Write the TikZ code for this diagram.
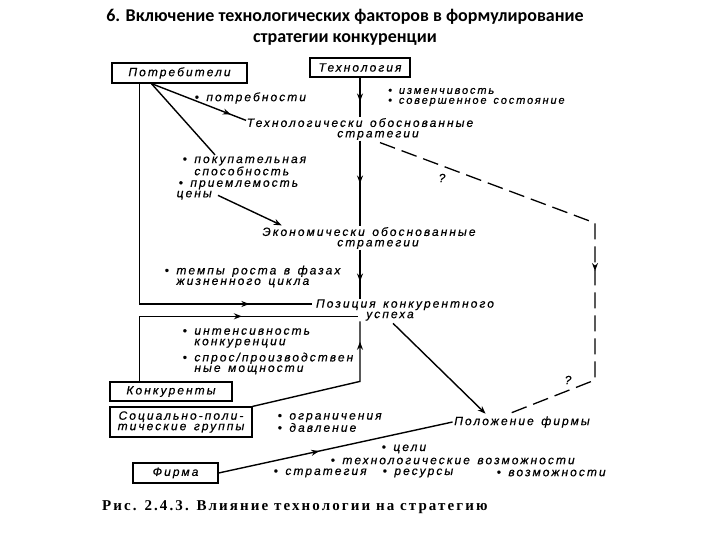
\documentclass[tikz,border=0pt]{standalone}
\usepackage{fontspec}
\setmainfont{Liberation Sans}
\newfontfamily\dfont[LetterSpace=17,WordSpace=1.4,FakeBold=0.4]{Liberation Sans}
\newfontfamily\tfont{Carlito}
\newfontfamily\cfont[LetterSpace=14]{Liberation Serif}
\usetikzlibrary{arrows.meta,decorations.markings,calc}
\newcommand\dbul{\textbullet\ }
\tikzset{
  dtext/.style={font=\dfont\itshape\fontsize{12}{10.5}\selectfont, inner sep=0.5pt},
  stext/.style={font=\dfont\itshape\fontsize{11}{10}\selectfont, inner sep=0pt},
  boxnode/.style={dtext, draw, line width=1.2pt, inner sep=2pt},
  link/.style={line width=1.4pt},
  mainlink/.style={line width=2.4pt},
  dashlink/.style={line width=1.3pt, dash pattern=on 16pt off 7pt},
  marr/.style={postaction={decorate}, decoration={markings, mark=at position #1 with {\arrow{Stealth[length=8pt,width=6pt]}}}},
  endarr/.style={-{Stealth[length=8pt,width=6pt]}},
}
\begin{document}
\begin{tikzpicture}[x=1pt,y=-1pt]
\path[use as bounding box, fill=white] (0,0) rectangle (720,540);

% title and caption
\node[font=\tfont\bfseries\fontsize{18}{21}\selectfont, align=center] (title) at (345,27)
  {6. Включение технологических факторов в формулирование\\стратегии конкуренции};
\node[font=\cfont\bfseries\fontsize{15}{16}\selectfont, anchor=west, inner sep=0pt] (cap) at (102,507)
  {Рис. 2.4.3. Влияние технологии на стратегию};

% boxes
\node[boxnode, minimum width=135pt, minimum height=20pt] (potr) at (179.5,73) {Потребители};
\node[boxnode, minimum width=100pt, minimum height=19pt] (tech) at (360,67.5) {Технология};
\node[boxnode, minimum width=122pt, minimum height=19pt] (konk) at (171,391.5) {Конкуренты};
\node[boxnode, minimum width=142pt, minimum height=30pt, align=center] (soc) at (181,422) {Социально-поли-\\тические группы};
\node[boxnode, minimum width=85pt, minimum height=20pt] (firm) at (175.5,473) {Фирма};

% central texts
\node[dtext, align=center] (tstrat) at (360,129) {Технологически обоснованные\\\hspace*{36pt}стратегии};
\node[dtext, align=center] (estrat) at (369,238) {Экономически обоснованные\\\hspace*{18pt}стратегии};
\node[dtext, align=center] (pos) at (405,310) {Позиция конкурентного\\успеха\hspace*{30pt}};
\node[dtext] (firmpos) at (522,422) {Положение фирмы};

% bullet lists
\node[stext, anchor=west] (b1) at (388,91) {\dbul изменчивость};
\node[stext, anchor=west] (b2) at (388,102) {\dbul совершенное состояние};
\node[dtext, anchor=west] (b3) at (194,98) {\dbul потребности};
\node[dtext, anchor=west, align=left] (b4) at (182,166) {\dbul покупательная\\\hphantom{\dbul}способность};
\node[dtext, anchor=west, align=left] (b5) at (176,190) {\hspace*{2pt}\dbul приемлемость\\цены};
\node[dtext, anchor=west, align=left] (b6) at (164,276.5) {\dbul темпы роста в фазах\\\hphantom{\dbul}жизненного цикла};
\node[dtext, anchor=west, align=left] (b7) at (182,338) {\dbul интенсивность\\\hphantom{\dbul}конкуренции};
\node[dtext, anchor=west, align=left] (b8) at (182,363.5) {\dbul спрос/производствен\\\hphantom{\dbul}ные мощности};
\node[dtext, anchor=west, align=left] (b9) at (277,422.5) {\dbul ограничения\\\dbul давление};
\node[dtext, anchor=west] (b10) at (381,449) {\dbul цели};
\node[dtext, anchor=west] (b11) at (330,461) {\dbul технологические возможности};
\node[dtext, anchor=west] (b12) at (273,473) {\dbul стратегия};
\node[dtext, anchor=west] (b13) at (382,473) {\dbul ресурсы};
\node[dtext, anchor=west] (b14) at (496,473) {\dbul возможности};

\node[dtext] (q1) at (442,178) {?};
\node[dtext] (q2) at (568,380) {?};

% main vertical chain
\draw[mainlink, marr=0.6] (tech.south) -- (tech.south |- tstrat.north);
\draw[mainlink, marr=0.5] (tech.south |- tstrat.south) -- (tech.south |- estrat.north);
\draw[mainlink, marr=0.65] (tech.south |- estrat.south) -- (tech.south |- pos.north);

% from consumers
\draw[link, marr=0.84] ($(potr.south west)+(40,0)$) -- ($(tstrat.north west)+(0,3)$);
\draw[link] ($(potr.south west)+(40,0)$) -- ($(b4.north west)+(33,-1)$);
\draw[link, endarr] ($(b5.south west)+(42,-5)$) -- ($(estrat.north west)+(20,-1)$);
\draw[link, marr=0.84] ($(potr.south west)+(28,0)$) |- ($(pos.west)+(-3,-6)$);

% from competitors
\draw[link, marr=0.59] ($(konk.north west)+(30,0)$) |- ($(pos.south west)+(43,-5)$);

% from socio-political groups
\draw[link, marr=0.88] (soc.north east) -- (tech.south |- konk.north) -- (tech.south |- pos.south);

% to firm position
\draw[link, endarr] ($(pos.south)+(-12,2)$) -- ($(firmpos.north west)+(32,-2)$);
\draw[link, marr=0.43] (firm.east) -- ($(firmpos.west)+(-1,0)$);

% dashed technology influence
\draw[dashlink, marr=0.583] ($(tstrat.south)+(20,2)$) -- (595,223) -- (595,380) -- ($(firmpos.north west)+(58,-3)$);
\end{tikzpicture}
\end{document}
